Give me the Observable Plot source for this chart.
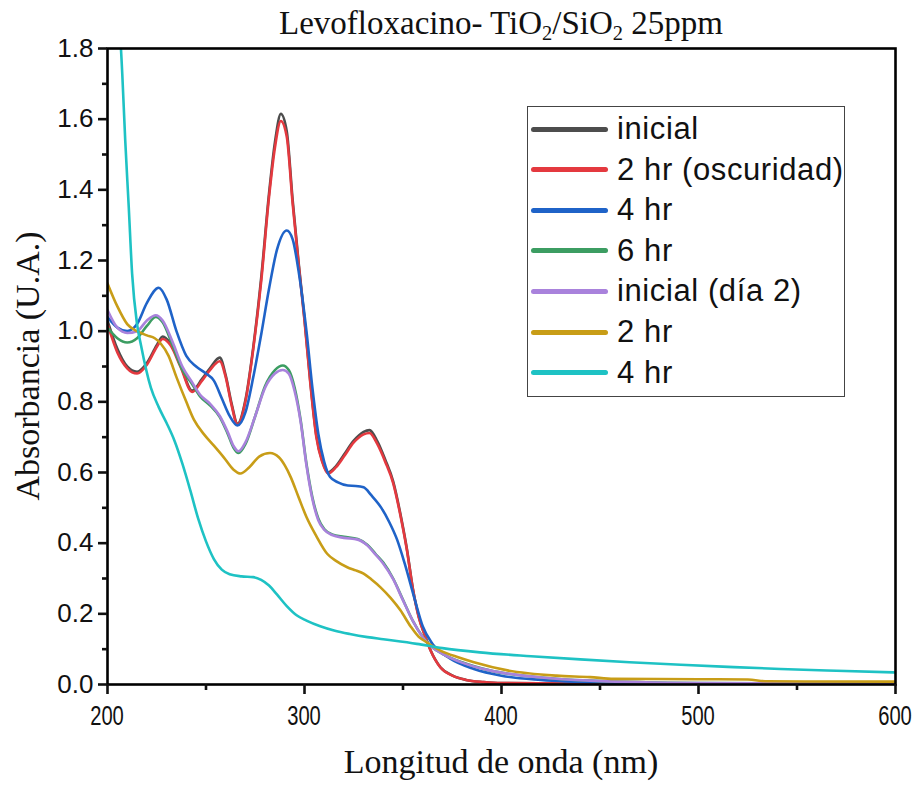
<!DOCTYPE html>
<html><head><meta charset="utf-8">
<script src="https://cdn.jsdelivr.net/npm/d3@7"></script>
<script src="https://cdn.jsdelivr.net/npm/@observablehq/plot@0.6"></script>
<style>
body{margin:0;background:#fff;}
#wrap{position:relative;width:922px;height:786px;overflow:hidden;background:#fff;}
#wrap svg{position:absolute;left:0;top:0;}
.title{position:absolute;left:107px;width:788px;top:7px;text-align:center;font-family:"Liberation Serif",serif;font-size:33px;color:#111;line-height:1;white-space:nowrap;}
.title sub{font-size:0.62em;vertical-align:-0.28em;line-height:0;}
.xlab{position:absolute;left:107px;width:788px;top:745px;text-align:center;font-family:"Liberation Serif",serif;font-size:34px;color:#111;line-height:1;}
.ylab{position:absolute;left:28px;top:366px;transform:translate(-50%,-50%) rotate(-90deg);white-space:nowrap;font-family:"Liberation Serif",serif;font-size:34px;color:#111;line-height:1;}
.xtick{position:absolute;top:702px;width:60px;margin-left:-30px;text-align:center;font-family:"Liberation Sans",Arial,sans-serif;font-size:28px;line-height:1;color:#111;transform:scaleX(0.72);transform-origin:50% 50%;white-space:nowrap;}
.legend{position:absolute;left:527px;top:106px;width:318px;height:291px;box-sizing:border-box;border:1.5px solid #444;background:#fff;}
.lrow{position:absolute;left:0;height:40px;width:330px;}
.lsw{position:absolute;left:3px;top:17.5px;width:77px;height:5px;border-radius:2.5px;}
.ltx{position:absolute;left:89px;top:0;line-height:40px;font-family:"Liberation Sans",Arial,sans-serif;font-size:31px;letter-spacing:0.6px;color:#111;white-space:nowrap;}
</style>
</head><body>
<div id="wrap"></div>
<script>
// ---- data (wavelength nm / absorbance) ----
const nm_inicial = [200,205,210,215,220,225,228,232,237,243,248,252,257,260,263,266,270,274,278,282,285,288,291,294,297,300,303,306,309,312,316,320,325,330,333,337,341,345,349,352,355,358,361,364,369,375,382,391,400,450,500,600];
const abs_inicial = [1.03,0.95,0.9,0.885,0.91,0.96,0.985,0.965,0.905,0.832,0.865,0.895,0.925,0.875,0.795,0.738,0.805,0.955,1.15,1.39,1.535,1.615,1.565,1.37,1.195,1.035,0.855,0.705,0.633,0.6,0.618,0.65,0.69,0.715,0.72,0.688,0.636,0.575,0.474,0.383,0.272,0.192,0.141,0.097,0.049,0.026,0.013,0.007,0.004,0.002,0.001,0.001];

const nm_2hrOsc = [200,205,210,215,220,225,228,232,237,243,248,252,257,260,263,266,270,274,278,282,285,288,291,294,297,300,303,306,309,312,316,320,325,330,333,337,341,345,349,352,355,358,361,364,369,375,382,391,400,450,500,600];
const abs_2hrOsc = [1.02,0.94,0.895,0.88,0.905,0.955,0.978,0.96,0.9,0.828,0.86,0.89,0.915,0.87,0.79,0.735,0.8,0.95,1.14,1.38,1.52,1.595,1.55,1.36,1.19,1.03,0.85,0.70,0.63,0.597,0.615,0.645,0.685,0.708,0.712,0.68,0.63,0.57,0.47,0.38,0.27,0.19,0.14,0.096,0.048,0.025,0.013,0.007,0.004,0.002,0.001,0.001];

const nm_4hr = [200,205,210,215,220,226,230,235,240,245,250,254,258,262,266,270,274,278,282,286,291,294,297,301,304,307,310,313,317,322,326,330,334,339,343,347,351,356,360,365,374,386,400,420,450,500,600];
const abs_4hr = [1.04,1.01,1.0,1.02,1.08,1.123,1.09,1.0,0.93,0.9,0.88,0.86,0.81,0.76,0.733,0.77,0.87,0.99,1.12,1.23,1.285,1.26,1.17,1.0,0.84,0.71,0.63,0.587,0.572,0.563,0.562,0.558,0.535,0.5,0.46,0.41,0.34,0.24,0.165,0.115,0.073,0.044,0.025,0.013,0.006,0.003,0.002];

const nm_6hr = [200,205,210,215,220,224.5,228,233,238,243,247,252,257,261,264,266.5,270,275,280,285,289,292,295,298,301,304,307,310,314,320,327,332,336,340,345,350,355,360,365,370,380,394,420,445,500,600];
const abs_6hr = [1.01,0.98,0.968,0.98,1.015,1.04,1.025,0.96,0.89,0.85,0.815,0.79,0.757,0.71,0.67,0.655,0.68,0.76,0.845,0.89,0.903,0.89,0.84,0.75,0.625,0.53,0.47,0.44,0.425,0.418,0.412,0.395,0.37,0.345,0.30,0.24,0.18,0.135,0.105,0.087,0.063,0.04,0.02,0.011,0.004,0.002];

const nm_inicialDia2 = [200,205,210,215,220,224.5,228,233,238,243,247,252,257,261,264,266.5,270,275,280,285,289,292,295,298,301,304,307,310,314,320,327,332,336,340,345,350,355,360,365,370,380,394,420,445,500,600];
const abs_inicialDia2 = [1.06,1.01,0.995,1.0,1.03,1.045,1.03,0.97,0.9,0.855,0.82,0.795,0.76,0.715,0.675,0.66,0.685,0.76,0.84,0.88,0.89,0.88,0.83,0.745,0.62,0.525,0.465,0.438,0.423,0.415,0.41,0.393,0.368,0.342,0.298,0.238,0.18,0.134,0.105,0.087,0.062,0.04,0.02,0.011,0.004,0.002];

const nm_2hr = [200,205,210,215,220,224,227,231,235,240,244,249,254,259,264,267.5,272,277,282.5,287,290,293,297,301,306,311.5,316,321.7,326,330,334,338.6,343.7,348.7,353.8,358,361,369,378,386,403,428,445,457,500,525,535,600];
const abs_2hr = [1.135,1.07,1.02,1.0,0.988,0.98,0.965,0.93,0.87,0.8,0.748,0.708,0.676,0.643,0.608,0.597,0.615,0.645,0.655,0.643,0.62,0.587,0.53,0.474,0.42,0.37,0.35,0.332,0.323,0.314,0.297,0.275,0.245,0.21,0.165,0.135,0.123,0.096,0.077,0.063,0.04,0.025,0.021,0.016,0.015,0.014,0.009,0.008];

const nm_4hrDia2 = [200,204,207.5,209,210.8,212.5,215,217,222,226,230,234,238,242,246,250,254,258,262,268,274,278,282,286,291,296,301,308,315,323,332,340,357,370,389,415,440,465,491,515,541.6,570,600];
const abs_4hrDia2 = [2.45,2.06,1.728,1.54,1.35,1.162,1.02,0.96,0.84,0.785,0.74,0.69,0.625,0.55,0.47,0.405,0.355,0.325,0.312,0.306,0.304,0.296,0.28,0.255,0.222,0.196,0.181,0.165,0.153,0.143,0.134,0.128,0.115,0.103,0.091,0.08,0.071,0.063,0.056,0.05,0.044,0.039,0.034];

const seriesNames = ["inicial","2 hr (oscuridad)","4 hr","6 hr","inicial (día 2)","2 hr","4 hr"];
const seriesColors = ["#4d4d4d","#e4393f","#1f63c8","#3c9d62","#a982dc","#c89d17","#1ec2c4"];
const seriesX = [nm_inicial,nm_2hrOsc,nm_4hr,nm_6hr,nm_inicialDia2,nm_2hr,nm_4hrDia2];
const seriesY = [abs_inicial,abs_2hrOsc,abs_4hr,abs_6hr,abs_inicialDia2,abs_2hr,abs_4hrDia2];

const xMajor = [200,300,400,500,600];
const xMinor = [250,350,450,550];
const yMajor = [0,0.2,0.4,0.6,0.8,1.0,1.2,1.4,1.6,1.8];
const yMinor = [0.1,0.3,0.5,0.7,0.9,1.1,1.3,1.5,1.7];

const titleHTML = "Levofloxacino- TiO<sub>2</sub>/SiO<sub>2</sub> 25ppm";
const xLabel = "Longitud de onda (nm)";
const yLabel = "Absorbancia (U.A.)";

// ---- build ----
const lines = seriesX.map((xs,k) => {
  const rows = xs.map((x,i) => ({nm:x, abs:seriesY[k][i]}));
  return Plot.line(rows, {x:"nm", y:"abs", stroke:seriesColors[k], strokeWidth:2.6, curve:"monotone-x", clip:true});
});

const chart = Plot.plot({
  width:922, height:786,
  marginTop:48, marginBottom:102, marginLeft:107, marginRight:27,
  x:{domain:[200,600]},
  y:{domain:[0,1.8]},
  style:{fontFamily:"Liberation Sans, Arial, sans-serif", fontSize:"26px", color:"#111", background:"transparent", overflow:"visible"},
  marks:[
    ...lines,
    Plot.frame({stroke:"#000", strokeWidth:2.6}),
    Plot.axisX({ticks:xMajor, tickSize:10, tickPadding:0, tickFormat:()=>"", strokeWidth:2.6, label:null}),
    Plot.axisX({ticks:xMinor, tickSize:6, tickPadding:0, tickFormat:()=>"", strokeWidth:2.6, label:null}),
    Plot.axisY({ticks:yMajor, tickSize:9, tickPadding:5, tickFormat:d3.format(".1f"), strokeWidth:2.6, label:null}),
    Plot.axisY({ticks:yMinor, tickSize:5, tickPadding:0, tickFormat:()=>"", strokeWidth:2.6, label:null})
  ]
});

const wrap = document.getElementById("wrap");
wrap.appendChild(chart);
d3.select(chart).selectAll('g[aria-label="y-axis tick label"] text').style("font-size", "26px");

// x tick labels (condensed), positioned with the chart's own x scale
const xs = chart.scale("x");
xMajor.forEach(v => {
  const d = document.createElement("div"); d.className = "xtick";
  d.style.left = xs.apply(v) + "px"; d.textContent = String(v);
  wrap.appendChild(d);
});

const t = document.createElement("div"); t.className="title"; t.innerHTML = titleHTML; wrap.appendChild(t);
const xl = document.createElement("div"); xl.className="xlab"; xl.textContent = xLabel; wrap.appendChild(xl);
const yl = document.createElement("div"); yl.className="ylab"; yl.textContent = yLabel; wrap.appendChild(yl);

const lg = document.createElement("div"); lg.className="legend";
seriesNames.forEach((n,i) => {
  const r = document.createElement("div"); r.className="lrow"; r.style.top = (2 + i*40.6) + "px";
  const sw = document.createElement("div"); sw.className="lsw"; sw.style.background = seriesColors[i];
  const tx = document.createElement("div"); tx.className="ltx"; tx.textContent = n;
  r.appendChild(sw); r.appendChild(tx); lg.appendChild(r);
});
wrap.appendChild(lg);
</script>
</body></html>
